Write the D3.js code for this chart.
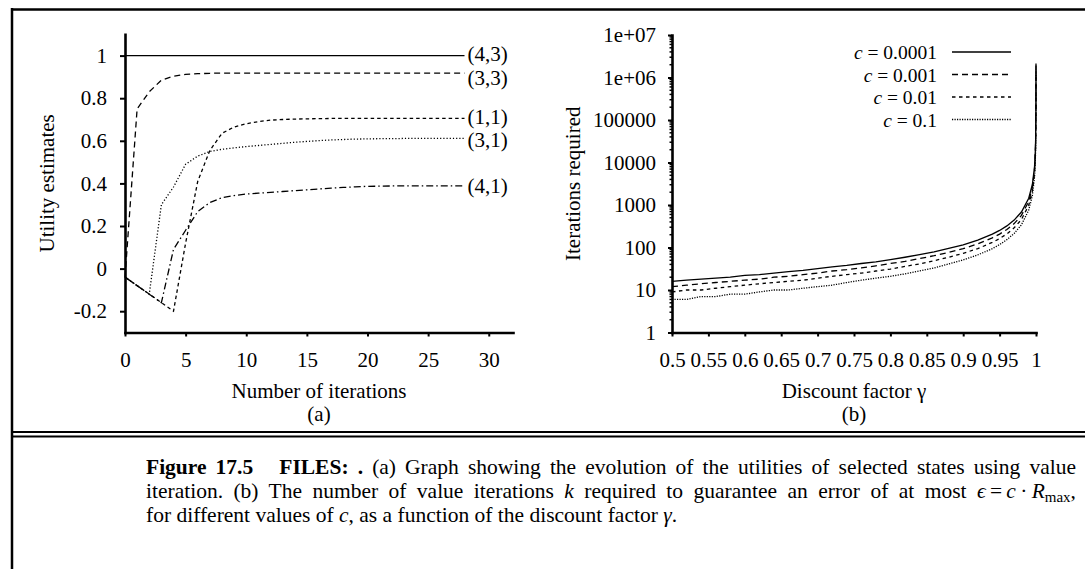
<!DOCTYPE html>
<html><head><meta charset="utf-8">
<script src="https://cdn.jsdelivr.net/npm/d3@7/dist/d3.min.js"></script>
<style>
body{margin:0;background:#fff}
svg{display:block}
text{font-family:"Liberation Serif","Times New Roman",Times,serif;fill:#000}
</style></head>
<body><div id="chart"></div>
<script>
// ---------- Panel (a) data: utility estimates vs iterations ----------
const iterations = [0,1,2,3,4,5,6,7,8,9,10,11,12,13,14,15,16,17,18,19,20,21,22,23,24,25,26,27,28];
const u43 = [1,1,1,1,1,1,1,1,1,1,1,1,1,1,1,1,1,1,1,1,1,1,1,1,1,1,1,1,1];
const u33 = [-0.04,0.75,0.83,0.885,0.903,0.912,0.915,0.917,0.918,0.918,0.918,0.918,0.918,0.918,0.918,0.918,0.918,0.918,0.918,0.918,0.918,0.918,0.918,0.918,0.918,0.918,0.918,0.918,0.918];
const u11 = [-0.04,-0.08,-0.12,-0.16,-0.2,0.12,0.41,0.555,0.635,0.665,0.68,0.69,0.697,0.7,0.702,0.703,0.704,0.705,0.705,0.705,0.705,0.705,0.705,0.705,0.705,0.705,0.705,0.705,0.705];
const u31 = [-0.04,-0.08,-0.12,0.3,0.383,0.49,0.528,0.55,0.56,0.567,0.573,0.578,0.583,0.588,0.593,0.597,0.601,0.604,0.606,0.608,0.609,0.61,0.61,0.611,0.611,0.611,0.611,0.611,0.611];
const u41 = [-0.04,-0.08,-0.12,-0.16,0.09,0.18,0.268,0.31,0.333,0.343,0.35,0.354,0.358,0.362,0.366,0.37,0.374,0.378,0.381,0.384,0.386,0.387,0.388,0.388,0.388,0.388,0.388,0.388,0.388];
const stateLabels = ["(4,3)","(3,3)","(1,1)","(3,1)","(4,1)"];
const xTicksA = [0,5,10,15,20,25,30];
const yTicksA = [-0.2,0,0.2,0.4,0.6,0.8,1];

// ---------- Panel (b) data: iterations required vs discount factor ----------
const gammas = [0.5,0.52,0.54,0.56,0.58,0.6,0.62,0.64,0.66,0.68,0.7,0.72,0.74,0.76,0.78,0.8,0.82,0.84,0.86,0.88,0.9,0.92,0.94,0.95,0.96,0.97,0.98,0.99,0.995,0.998,0.999,0.9995,0.9999,0.99995,0.99999];
const iterC0001 = [16,17,18,19,20,22,23,25,27,29,32,35,38,42,46,52,59,68,79,95,116,150,206,252,322,441,684,1444,3033,8051,16803,35000,191128,396140,2141640];
const iterC001  = [12,13,14,15,16,17,18,20,21,23,25,28,30,33,37,42,47,55,64,77,94,122,169,207,266,365,570,1215,2574,6901,14502,30396,168104,350088,1911380];
const iterC01   = [9,10,10,11,12,13,14,15,16,17,19,21,23,25,28,31,36,41,49,59,73,94,132,162,209,290,456,986,2115,5751,12200,25792,145079,304036,1681120];
const iterC1    = [6,6,7,7,8,8,9,10,10,11,12,13,15,17,19,21,24,28,33,41,51,67,94,117,153,214,342,757,1655,4601,9899,21188,122054,257984,1450860];
const cLabels = ["0.0001","0.001","0.01","0.1"];
const xTicksB = [0.5,0.55,0.6,0.65,0.7,0.75,0.8,0.85,0.9,0.95,1];
const xTickLabelsB = ["0.5","0.55","0.6","0.65","0.7","0.75","0.8","0.85","0.9","0.95","1"];
const yTicksB = [1,10,100,1000,10000,100000,1000000,10000000];
const yTickLabelsB = ["1","10","100","1000","10000","100000","1e+06","1e+07"];

// ---------- styles ----------
const dashA = [null,"6,4","3.5,3","1.2,2","7,3,1.5,3"];
const dashB = [null,"6,4","3.5,3.5","1.2,1.3"];
const labelDy = [-1.5,4.5,-1,1.5,0];
const FS = 21;
const LFS = 19.5;
const CFS = 21.5;

const W = 1085, H = 569;
const svg = d3.select("#chart").append("svg").attr("width",W).attr("height",H);
svg.append("rect").attr("width",W).attr("height",H).attr("fill","#fff");

// frame
const frame = svg.append("g").attr("stroke","#000").attr("fill","none");
frame.append("line").attr("x1",11).attr("x2",W).attr("y1",9.5).attr("y2",9.5).attr("stroke-width",2.5);
frame.append("line").attr("x1",12).attr("x2",12).attr("y1",8).attr("y2",H).attr("stroke-width",2.5);
frame.append("line").attr("x1",11).attr("x2",W).attr("y1",432).attr("y2",432).attr("stroke-width",2);
frame.append("line").attr("x1",11).attr("x2",W).attr("y1",436.5).attr("y2",436.5).attr("stroke-width",2);

function styleAxis(g){
  g.attr("font-size",FS).attr("font-family",null);
  g.select(".domain").attr("stroke-width",2.6).attr("stroke-linecap","square");
  g.selectAll(".tick line").attr("stroke-width",2);
  g.selectAll(".tick text").attr("fill","#000");
}

// ---------- Panel (a) ----------
const xA = d3.scaleLinear().domain([0,32]).range([125,513]);
const yA = d3.scaleLinear().domain([-0.3,1.1]).range([332.5,34.3]);

svg.append("g").attr("transform","translate(0,332.5)")
  .call(d3.axisBottom(xA).tickValues(xTicksA).tickSize(4).tickSizeOuter(0).tickPadding(16).tickFormat(d=>String(d)))
  .call(styleAxis);
svg.append("g").attr("transform","translate(125,0)")
  .call(d3.axisLeft(yA).tickValues(yTicksA).tickSize(5).tickSizeOuter(0).tickPadding(13).tickFormat(d=>String(d)))
  .call(styleAxis);

const seriesA = [u43,u33,u11,u31,u41];
const lineA = d3.line().x((d,i)=>xA(iterations[i])).y(d=>yA(d));
seriesA.forEach((s,k)=>{
  svg.append("path").datum(s).attr("d",lineA).attr("fill","none").attr("stroke","#000")
    .attr("stroke-width",1.3).attr("stroke-dasharray",dashA[k]);
  svg.append("text").attr("x",xA(iterations[iterations.length-1])+3).attr("y",yA(s[s.length-1])+labelDy[k])
    .attr("dominant-baseline","central").attr("font-size",FS).text(stateLabels[k]);
});

svg.append("text").attr("transform",`translate(47,${(yA(-0.3)+yA(1.1))/2}) rotate(-90)`)
  .attr("text-anchor","middle").attr("dominant-baseline","central").attr("font-size",FS).text("Utility estimates");
svg.append("text").attr("x",(xA(0)+xA(32))/2).attr("y",391).attr("text-anchor","middle")
  .attr("dominant-baseline","central").attr("font-size",FS).text("Number of iterations");
svg.append("text").attr("x",(xA(0)+xA(32))/2).attr("y",414).attr("text-anchor","middle")
  .attr("dominant-baseline","central").attr("font-size",FS).text("(a)");

// ---------- Panel (b) ----------
const xB = d3.scaleLinear().domain([0.5,1]).range([672,1036]);
const yB = d3.scaleLog().domain([1,1e7]).range([332.5,35]);

svg.append("g").attr("transform","translate(0,332.5)")
  .call(d3.axisBottom(xB).tickValues(xTicksB).tickSize(4).tickSizeOuter(0).tickPadding(16)
    .tickFormat((d,i)=>xTickLabelsB[i]))
  .call(styleAxis);
const gyB = svg.append("g").attr("transform","translate(672,0)")
  .call(d3.axisLeft(yB).tickValues(yTicksB).tickSize(4).tickSizeOuter(0).tickPadding(12)
    .tickFormat((d,i)=>yTickLabelsB[i]))
  .call(styleAxis);
// minor log ticks
const minorVals = [];
yTicksB.slice(0,-1).forEach(b=>{ for(let m=2;m<=9;m++) minorVals.push(b*m); });
gyB.selectAll(".minor").data(minorVals).enter().append("line").attr("class","minor")
  .attr("x1",-2.5).attr("x2",0).attr("y1",d=>yB(d)).attr("y2",d=>yB(d))
  .attr("stroke","#000").attr("stroke-width",1.5);

const seriesB = [iterC0001,iterC001,iterC01,iterC1];
const lineB = d3.line().x((d,i)=>xB(gammas[i])).y(d=>yB(d));
seriesB.forEach((s,k)=>{
  svg.append("path").datum(s).attr("d",lineB).attr("fill","none").attr("stroke","#000")
    .attr("stroke-width",1.3).attr("stroke-dasharray",dashB[k]);
});

// legend
const legY = [52,74.5,97,119.5];
cLabels.forEach((lab,k)=>{
  const t = svg.append("text").attr("x",937).attr("y",legY[k]).attr("text-anchor","end")
    .attr("dominant-baseline","central").attr("font-size",LFS);
  t.append("tspan").attr("font-style","italic").text("c");
  t.append("tspan").text(" = " + lab);
  svg.append("line").attr("x1",952).attr("x2",1011).attr("y1",legY[k]).attr("y2",legY[k])
    .attr("stroke","#000").attr("stroke-width",1.3).attr("stroke-dasharray",dashB[k]);
});

svg.append("text").attr("transform",`translate(573,${(yB(1)+yB(1e7))/2}) rotate(-90)`)
  .attr("text-anchor","middle").attr("dominant-baseline","central").attr("font-size",FS).text("Iterations required");
svg.append("text").attr("x",(xB(0.5)+xB(1))/2).attr("y",391).attr("text-anchor","middle")
  .attr("dominant-baseline","central").attr("font-size",FS).text("Discount factor γ");
svg.append("text").attr("x",(xB(0.5)+xB(1))/2).attr("y",414).attr("text-anchor","middle")
  .attr("dominant-baseline","central").attr("font-size",FS).text("(b)");

// ---------- caption ----------
const capX = 146, capR = 1076;
const cap1 = svg.append("text").attr("x",capX).attr("y",474).attr("font-size",CFS);
cap1.append("tspan").attr("font-weight","bold").text("Figure 17.5");
cap1.append("tspan").attr("dx",26).attr("font-weight","bold").text("FILES: .");
cap1.append("tspan").text(" (a) Graph showing the evolution of the utilities of selected states using value");

const cap2 = svg.append("text").attr("x",capX).attr("y",498).attr("font-size",CFS);
cap2.append("tspan").text("iteration. (b) The number of value iterations ");
cap2.append("tspan").attr("font-style","italic").text("k");
cap2.append("tspan").text(" required to guarantee an error of at most ");
cap2.append("tspan").attr("font-style","italic").text("ϵ");
cap2.append("tspan").text("\u2009=\u2009");
cap2.append("tspan").attr("font-style","italic").text("c");
cap2.append("tspan").text("\u2009·\u2009");
cap2.append("tspan").attr("font-style","italic").text("R");
cap2.append("tspan").attr("font-size",15).attr("dy",4).text("max");
cap2.append("tspan").attr("dy",-4).text(",");

const cap3 = svg.append("text").attr("x",capX).attr("y",522).attr("font-size",CFS);
cap3.append("tspan").text("for different values of ");
cap3.append("tspan").attr("font-style","italic").text("c");
cap3.append("tspan").text(", as a function of the discount factor ");
cap3.append("tspan").attr("font-style","italic").text("γ");
cap3.append("tspan").text(".");

function justify(t, target){
  const w = t.node().getBBox().width;
  const n = (t.node().textContent.match(/ /g)||[]).length;
  if(n>0) t.attr("word-spacing", (target - w)/n);
}
justify(cap1, capR-capX);
justify(cap2, capR-capX);
</script></body></html>
